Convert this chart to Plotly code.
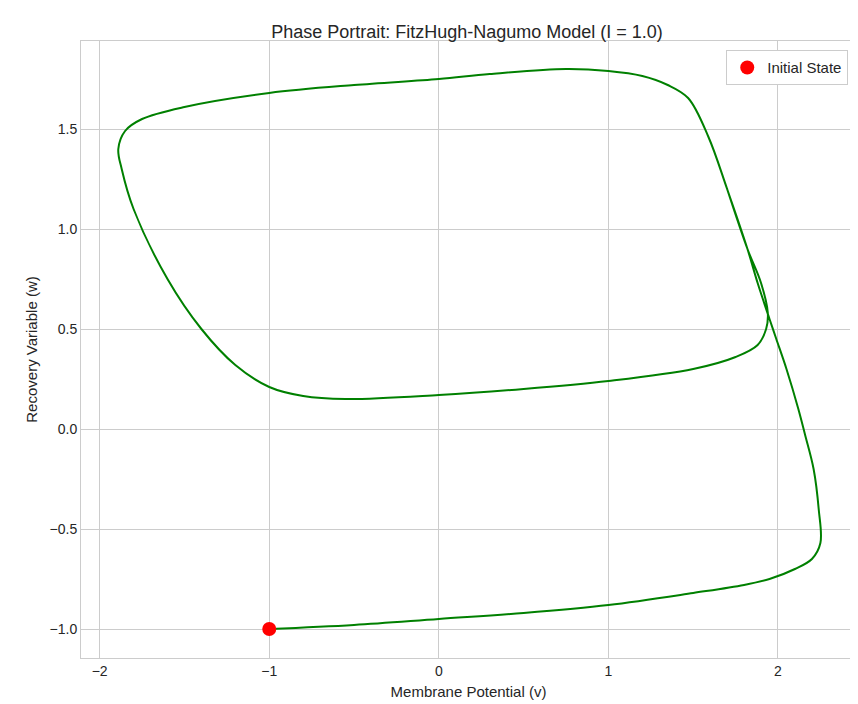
import plotly.graph_objects as go

v = [-1.0, -0.5, 0.0, 0.5, 1.0, 1.5, 1.8, 1.95, 2.1, 2.2, 2.25, 2.24, 2.21, 2.16, 2.12, 2.05, 1.99, 1.95,
     1.88, 1.82, 1.7, 1.59, 1.47, 1.35, 1.2, 1.0, 0.75, 0.3, 0.0, -0.5, -1.0, -1.5, -1.75, -1.85, -1.89, -1.87,
     -1.8, -1.6, -1.4, -1.2, -1.0, -0.8, -0.55, 0.0, 0.5, 1.0, 1.5, 1.75, 1.88, 1.93, 1.94, 1.9, 1.82, 1.7]
w = [-1.0, -0.98, -0.95, -0.92, -0.88, -0.82, -0.78, -0.75, -0.7, -0.65, -0.57, -0.4, -0.2, -0.03, 0.1, 0.3, 0.45, 0.55,
     0.73, 0.9, 1.2, 1.46, 1.655, 1.72, 1.765, 1.79, 1.8, 1.775, 1.75, 1.72, 1.68, 1.61, 1.55, 1.49, 1.4, 1.3,
     1.1, 0.75, 0.5, 0.32, 0.21, 0.165, 0.15, 0.17, 0.2, 0.24, 0.3, 0.36, 0.42, 0.5, 0.58, 0.73, 0.9, 1.2]

fig = go.Figure()
fig.add_trace(go.Scatter(x=v, y=w, mode="lines", line=dict(color="green", width=2, shape="spline", smoothing=1.0),
                         showlegend=False))
fig.add_trace(go.Scatter(x=[v[0]], y=[w[0]], mode="markers", marker=dict(color="red", size=14),
                         name="Initial State"))
axis = dict(showgrid=True, gridcolor="#cccccc", zeroline=False, showline=True, linecolor="#cccccc", mirror=True,
            ticks="", tickfont=dict(size=14, color="#262626"), automargin=False)
fig.update_layout(
    width=858, height=704, plot_bgcolor="white", paper_bgcolor="white",
    font=dict(family="Liberation Sans, Arial", color="#262626"),
    margin=dict(l=73, r=10, t=33, b=54),
    title=dict(text="Phase Portrait: FitzHugh-Nagumo Model (I = 1.0)", x=0.535, xanchor="center", y=0.975,
               font=dict(size=18)),
    xaxis=dict(axis, range=[-2.11, 2.46], dtick=1, title=dict(text="Membrane Potential (v)", font=dict(size=15), standoff=8)),
    yaxis=dict(axis, range=[-1.145, 1.94], dtick=0.5, tickformat=".1f",
               title=dict(text="Recovery Variable (w)", font=dict(size=15), standoff=8)),
    legend=dict(x=0.99, y=0.985, xanchor="right", yanchor="top", bordercolor="#cccccc", borderwidth=1,
                font=dict(size=15), bgcolor="white"),
)
fig.write_html("out.html")
